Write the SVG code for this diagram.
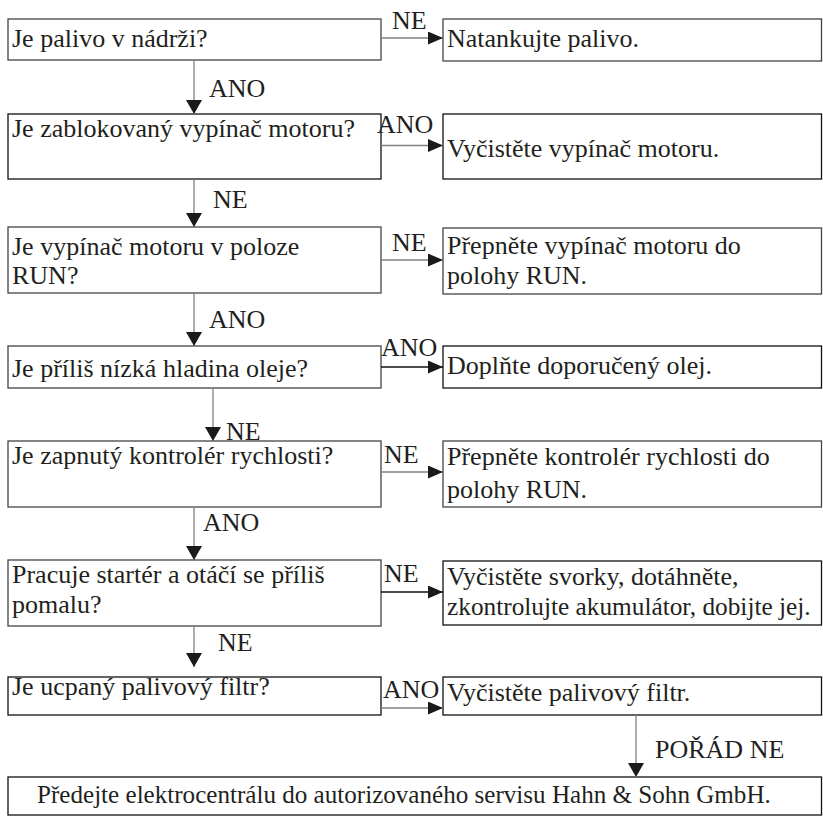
<svg xmlns="http://www.w3.org/2000/svg" width="823" height="816" viewBox="0 0 823 816" font-family="'Liberation Serif', 'DejaVu Serif', serif" font-size="26">
<defs>
<marker id="av" markerUnits="userSpaceOnUse" markerWidth="14" markerHeight="16" refX="14" refY="8" orient="auto" viewBox="0 0 14 16">
<path d="M0,0 L14,8 L0,16 Z" fill="#1a1a1a"/>
</marker>
<marker id="ah" markerUnits="userSpaceOnUse" markerWidth="15" markerHeight="13" refX="15" refY="6.5" orient="auto" viewBox="0 0 15 13">
<path d="M0,0 L15,6.5 L0,13 Z" fill="#1a1a1a"/>
</marker>
<style>
text{font-family:'Liberation Serif','DejaVu Serif',serif;font-size:26px;fill:#231f20}
rect{fill:#fff;stroke:#444;stroke-width:1.3}
rect.k{stroke:#111}
.c line{stroke:#808080;stroke-width:1.3}
.c line.b{stroke:#111}
.v{marker-end:url(#av)}
.h{marker-end:url(#ah)}
</style>
</defs>
<rect x="0" y="0" width="823" height="816" style="fill:#fff;stroke:none"/>
<g id="q1"><rect x="8" y="19" width="373" height="41"/><text x="12" y="47">Je palivo v nádrži?</text></g>
<g id="a1"><rect x="443" y="19" width="378.5" height="42"/><text x="447" y="47">Natankujte palivo.</text></g>
<g id="q2"><rect class="k" x="8" y="114" width="373" height="65"/><text x="12" y="137">Je zablokovaný vypínač motoru?</text></g>
<g id="a2"><rect class="k" x="443" y="114" width="378.5" height="65"/><text x="447" y="157">Vyčistěte vypínač motoru.</text></g>
<g id="q3"><rect x="8" y="227" width="373" height="66"/><text x="12" y="255">Je vypínač motoru v poloze</text><text x="12" y="284">RUN?</text></g>
<g id="a3"><rect x="443" y="228" width="378.5" height="66"/><text x="447" y="254">Přepněte vypínač motoru do</text><text x="447" y="284">polohy RUN.</text></g>
<g id="q4"><rect x="8" y="346" width="373" height="42"/><text x="12" y="377">Je příliš nízká hladina oleje?</text></g>
<g id="a4"><rect class="k" x="443" y="346" width="378.5" height="42"/><text x="447" y="374">Doplňte doporučený olej.</text></g>
<g id="q5"><rect x="8" y="441" width="373" height="66"/><text x="12" y="464">Je zapnutý kontrolér rychlosti?</text></g>
<g id="a5"><rect x="443" y="441" width="378.5" height="66"/><text x="447" y="465">Přepněte kontrolér rychlosti do</text><text x="447" y="498">polohy RUN.</text></g>
<g id="q6"><rect x="8" y="560" width="373" height="66"/><text x="12" y="583">Pracuje startér a otáčí se příliš</text><text x="12" y="613">pomalu?</text></g>
<g id="a6"><rect class="k" x="443" y="561" width="378.5" height="64"/><text x="447" y="585">Vyčistěte svorky, dotáhněte,</text><text x="447" y="615" style="font-size:25.3px">zkontrolujte akumulátor, dobijte jej.</text></g>
<g id="q7"><rect class="k" x="8" y="677" width="373" height="38"/><text x="12" y="695">Je ucpaný palivový filtr?</text></g>
<g id="a7"><rect class="k" x="443" y="677" width="378.5" height="38"/><text x="447" y="701">Vyčistěte palivový filtr.</text></g>
<g id="end"><rect class="k" x="8" y="777" width="813.5" height="38"/><text x="37" y="803" style="font-size:25.1px">Předejte elektrocentrálu do autorizovaného servisu Hahn &amp; Sohn GmbH.</text></g>
<g id="connectors" class="c">
<line class="v" x1="194" y1="60" x2="194" y2="114"/>
<line class="v" x1="194" y1="179" x2="194" y2="227"/>
<line class="v" x1="194" y1="293" x2="194" y2="346"/>
<line class="v" x1="213" y1="388" x2="213" y2="441"/>
<line class="v" x1="194" y1="507" x2="194" y2="560"/>
<line class="v" x1="194" y1="626" x2="194" y2="667"/>
<line class="v" x1="636" y1="715" x2="636" y2="777"/>
<line class="h" x1="381" y1="38" x2="443" y2="38"/>
<line class="h" x1="381" y1="145.5" x2="443" y2="145.5"/>
<line class="h" x1="381" y1="260" x2="443" y2="260"/>
<line class="h b" x1="381" y1="367" x2="443" y2="367"/>
<line class="h" x1="381" y1="472" x2="443" y2="472"/>
<line class="h b" x1="381" y1="592" x2="443" y2="592"/>
<line class="h" x1="381" y1="708" x2="443" y2="708"/>
<text x="209" y="97">ANO</text>
<text x="213" y="208">NE</text>
<text x="209" y="328">ANO</text>
<text x="226" y="440">NE</text>
<text x="203" y="531">ANO</text>
<text x="218" y="651">NE</text>
<text x="655" y="758">POŘÁD NE</text>
<text x="392" y="29">NE</text>
<text x="377" y="133">ANO</text>
<text x="392" y="251">NE</text>
<text x="381" y="356">ANO</text>
<text x="384" y="463">NE</text>
<text x="384" y="582">NE</text>
<text x="383" y="698">ANO</text>
</g>
</svg>
